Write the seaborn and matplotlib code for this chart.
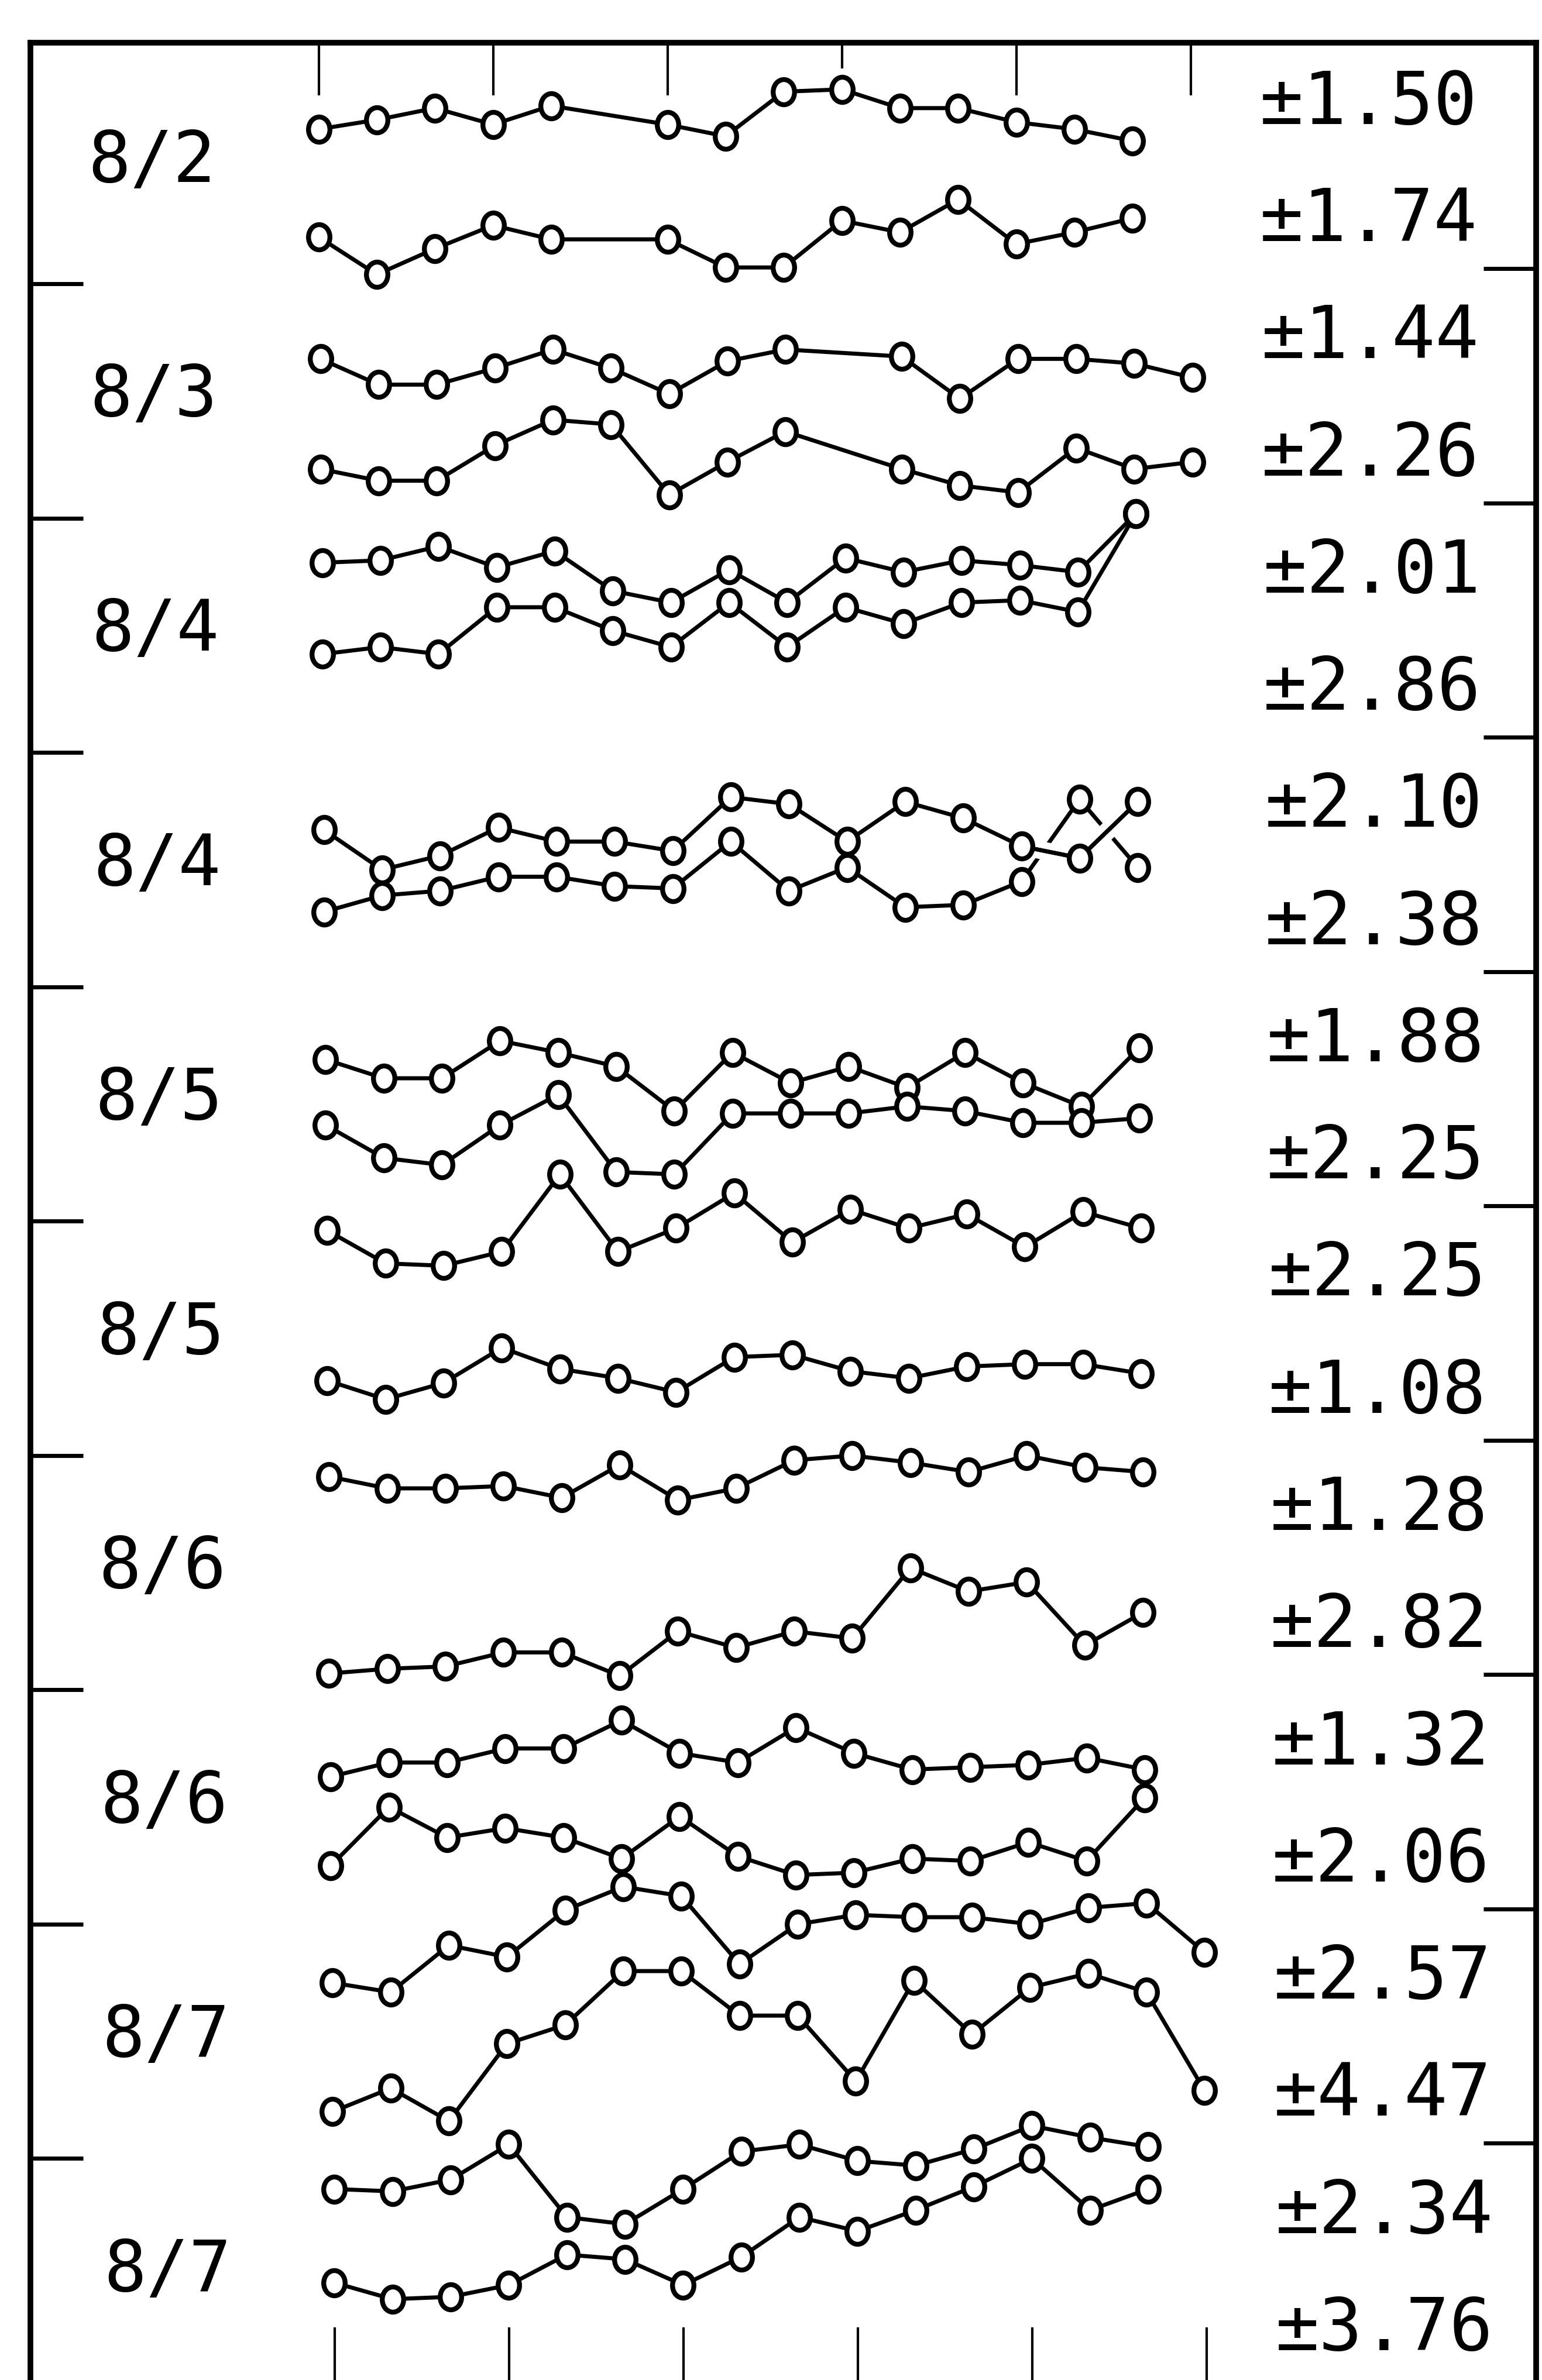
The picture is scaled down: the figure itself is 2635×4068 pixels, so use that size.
import numpy as np
import pandas as pd
import seaborn as sns
import matplotlib.pyplot as plt
import matplotlib.patheffects as pe
from matplotlib.path import Path
from matplotlib.transforms import Affine2D

# ---------------- data ----------------
# one row of date labels, one band per date, two traces per band
dates = ['8/2', '8/3', '8/4', '8/4', '8/5', '8/5', '8/6', '8/6', '8/7', '8/7']

sd_labels = ['±1.50', '±1.74', '±1.44', '±2.26', '±2.01', '±2.86',
             '±2.10', '±2.38', '±1.88', '±2.25', '±2.25', '±1.08',
             '±1.28', '±2.82', '±1.32', '±2.06', '±2.57', '±4.47',
             '±2.34', '±3.76']

nan = np.nan
# readings as offsets from the centre of each band (band height = 10)
aug2_a = [1.6, 2.0, 2.5, 1.8, 2.6, nan, 1.8, 1.3, 3.2, 3.3, 2.5, 2.5, 1.9, 1.6, 1.1]
aug2_b = [-3.0, -4.6, -3.5, -2.5, -3.1, nan, -3.1, -4.3, -4.3, -2.3, -2.8, -1.4, -3.3, -2.8, -2.2]
aug3_a = [1.8, 0.7, 0.7, 1.4, 2.2, 1.4, 0.3, 1.7, 2.2, nan, 1.9, 0.1, 1.8, 1.8, 1.6, 1.0]
aug3_b = [-2.9, -3.4, -3.4, -1.9, -0.8, -1.0, -4.0, -2.6, -1.3, nan, -2.9, -3.6, -3.9, -2.0, -2.9, -2.6]
aug4_a = [3.1, 3.2, 3.8, 2.9, 3.6, 1.9, 1.4, 2.8, 1.4, 3.3, 2.7, 3.2, 3.0, 2.7, 5.2]
aug4_b = [-0.8, -0.5, -0.8, 1.2, 1.2, 0.2, -0.5, 1.4, -0.5, 1.2, 0.5, 1.4, 1.5, 1.0, 5.2]
aug4_c = [1.7, 0.0, 0.6, 1.8, 1.2, 1.2, 0.8, 3.1, 2.8, 1.2, 2.9, 2.2, 1.0, 0.5, 2.9]
aug4_d = [-1.8, -1.1, -0.9, -0.3, -0.3, -0.7, -0.8, 1.2, -0.9, 0.1, -1.6, -1.5, -0.5, 3.0, 0.1]
aug5_a = [1.9, 1.1, 1.1, 2.7, 2.2, 1.6, -0.3, 2.2, 0.9, 1.6, 0.7, 2.2, 0.9, -0.1, 2.4]
aug5_b = [-0.9, -2.3, -2.6, -0.9, 0.4, -2.9, -3.0, -0.4, -0.4, -0.4, -0.1, -0.3, -0.8, -0.8, -0.6]
aug5_c = [4.6, 3.2, 3.1, 3.7, 7.0, 3.7, 4.7, 6.2, 4.1, 5.5, 4.7, 5.3, 3.9, 5.4, 4.7]
aug5_d = [-1.8, -2.6, -1.9, -0.4, -1.3, -1.7, -2.3, -0.8, -0.7, -1.4, -1.7, -1.2, -1.1, -1.1, -1.5]
aug6_a = [4.1, 3.6, 3.6, 3.7, 3.2, 4.6, 3.1, 3.6, 4.8, 5.0, 4.7, 4.3, 5.0, 4.5, 4.3]
aug6_b = [-4.3, -4.1, -4.0, -3.4, -3.4, -4.4, -2.5, -3.2, -2.5, -2.8, 0.2, -0.8, -0.4, -3.1, -1.7]
aug6_c = [1.3, 1.9, 1.9, 2.5, 2.5, 3.7, 2.3, 1.9, 3.4, 2.3, 1.6, 1.7, 1.8, 2.1, 1.6]
aug6_d = [-2.5, 0.0, -1.3, -0.9, -1.3, -2.2, -0.4, -2.1, -2.9, -2.8, -2.2, -2.3, -1.5, -2.3, 0.4]
aug7_a = [2.5, 2.1, 4.1, 3.6, 5.6, 6.6, 6.2, 3.3, 5.0, 5.4, 5.3, 5.3, 5.0, 5.7, 5.9, 3.8]
aug7_b = [-3.0, -2.0, -3.4, -0.1, 0.7, 3.0, 3.0, 1.1, 1.1, -1.7, 2.6, 0.3, 2.3, 2.9, 2.1, -2.1]
aug7_c = [3.7, 3.6, 4.1, 5.6, 2.5, 2.2, 3.7, 5.3, 5.6, 4.9, 4.7, 5.4, 6.4, 5.9, 5.5]
aug7_d = [-0.3, -1.0, -0.9, -0.4, 0.9, 0.7, -0.4, 0.8, 2.5, 1.9, 2.8, 3.8, 5.0, 2.8, 3.7]

traces = [aug2_a, aug2_b, aug3_a, aug3_b, aug4_a, aug4_b, aug4_c, aug4_d,
          aug5_a, aug5_b, aug5_c, aug5_d, aug6_a, aug6_b, aug6_c, aug6_d,
          aug7_a, aug7_b, aug7_c, aug7_d]

# ---------------- style ----------------
sns.set_style('white')
plt.rcParams['font.family'] = ['DejaVu Sans Mono', 'DejaVu Sans']
plt.rcParams['text.color'] = 'black'

skew = 0.03  # the original sheet drifts a little to the right going down
ellipse = Path.unit_circle().transformed(Affine2D().scale(0.85, 1.0))
line_kw = dict(color='black', linewidth=5, marker=ellipse, markersize=31,
               markeredgewidth=6, markeredgecolor='black', markerfacecolor='white')


def trace_frame(vals, band):
    d = pd.DataFrame({'idx': np.arange(len(vals)), 'val': vals}).dropna()
    d['x'] = d['idx'] + skew * band
    d['y'] = d['val'] - 10 * band - 5
    return d


fig = plt.figure(figsize=(26.35, 40.68), dpi=100)
ax = fig.add_axes([20 / 1016, 0, 992 / 1016, 1 - 28 / 1568])

# ---------------- traces ----------------
order = list(range(len(traces)))
# the 2nd 8/4 band: lower trace first so the upper one hops over it
order[6], order[7] = 7, 6
for j in order:
    band = j // 2
    d = trace_frame(traces[j], band)
    if j == 6:
        tail = d[d['idx'] >= 12]
        sns.lineplot(data=tail, x='x', y='y', ax=ax, sort=False, estimator=None,
                     color='black', linewidth=5,
                     path_effects=[pe.Stroke(linewidth=22, foreground='white'), pe.Normal()])
    sns.lineplot(data=d, x='x', y='y', ax=ax, sort=False, estimator=None, **line_kw)

# ---------------- labels ----------------
for k, d in enumerate(dates):
    ax.text(-2.87 + skew * k, -10 * k - 4.8, d, ha='center', va='center',
            fontsize=87, color='black')

for j, lab in enumerate(sd_labels):
    k = j // 2
    y = -10 * k - 2.3 if j % 2 == 0 else -10 * k - 7.3
    ax.text(16.19 + skew * k, y, lab, ha='left', va='center', fontsize=89, color='black')

# ---------------- frame and ticks ----------------
ax.set_xlim(-4.96, 20.94)
ax.set_ylim(-99.45, 0.30)
ax.set_xlabel('')
ax.set_ylabel('')
for side in ['left', 'top', 'right']:
    ax.spines[side].set_linewidth(7)
    ax.spines[side].set_color('black')
ax.spines['bottom'].set_visible(False)

ax.set_xticks([0, 3, 6, 12, 15])
ax.set_xticks([9], minor=True)
ax.tick_params(axis='x', which='both', top=True, bottom=False, direction='in',
               labeltop=False, labelbottom=False, width=3, color='black')
ax.tick_params(axis='x', which='major', length=65)
ax.tick_params(axis='x', which='minor', length=32)

ax.set_yticks(-10 * np.arange(1, 10))
ax.tick_params(axis='y', left=True, right=False, direction='in', length=65,
               width=5, color='black', labelleft=False, labelright=False)

bottom = ax.secondary_xaxis('bottom')
bottom.set_xticks(np.arange(0, 16, 3) + 0.28)
bottom.tick_params(direction='in', length=65, width=3, color='black', labelbottom=False)
bottom.spines['bottom'].set_visible(False)

right = ax.secondary_yaxis('right')
right.set_yticks(-10 * np.arange(1, 10) + 0.65)
right.tick_params(direction='in', length=65, width=5, color='black', labelright=False)
right.spines['right'].set_visible(False)

fig.savefig('out.png', dpi=100)
